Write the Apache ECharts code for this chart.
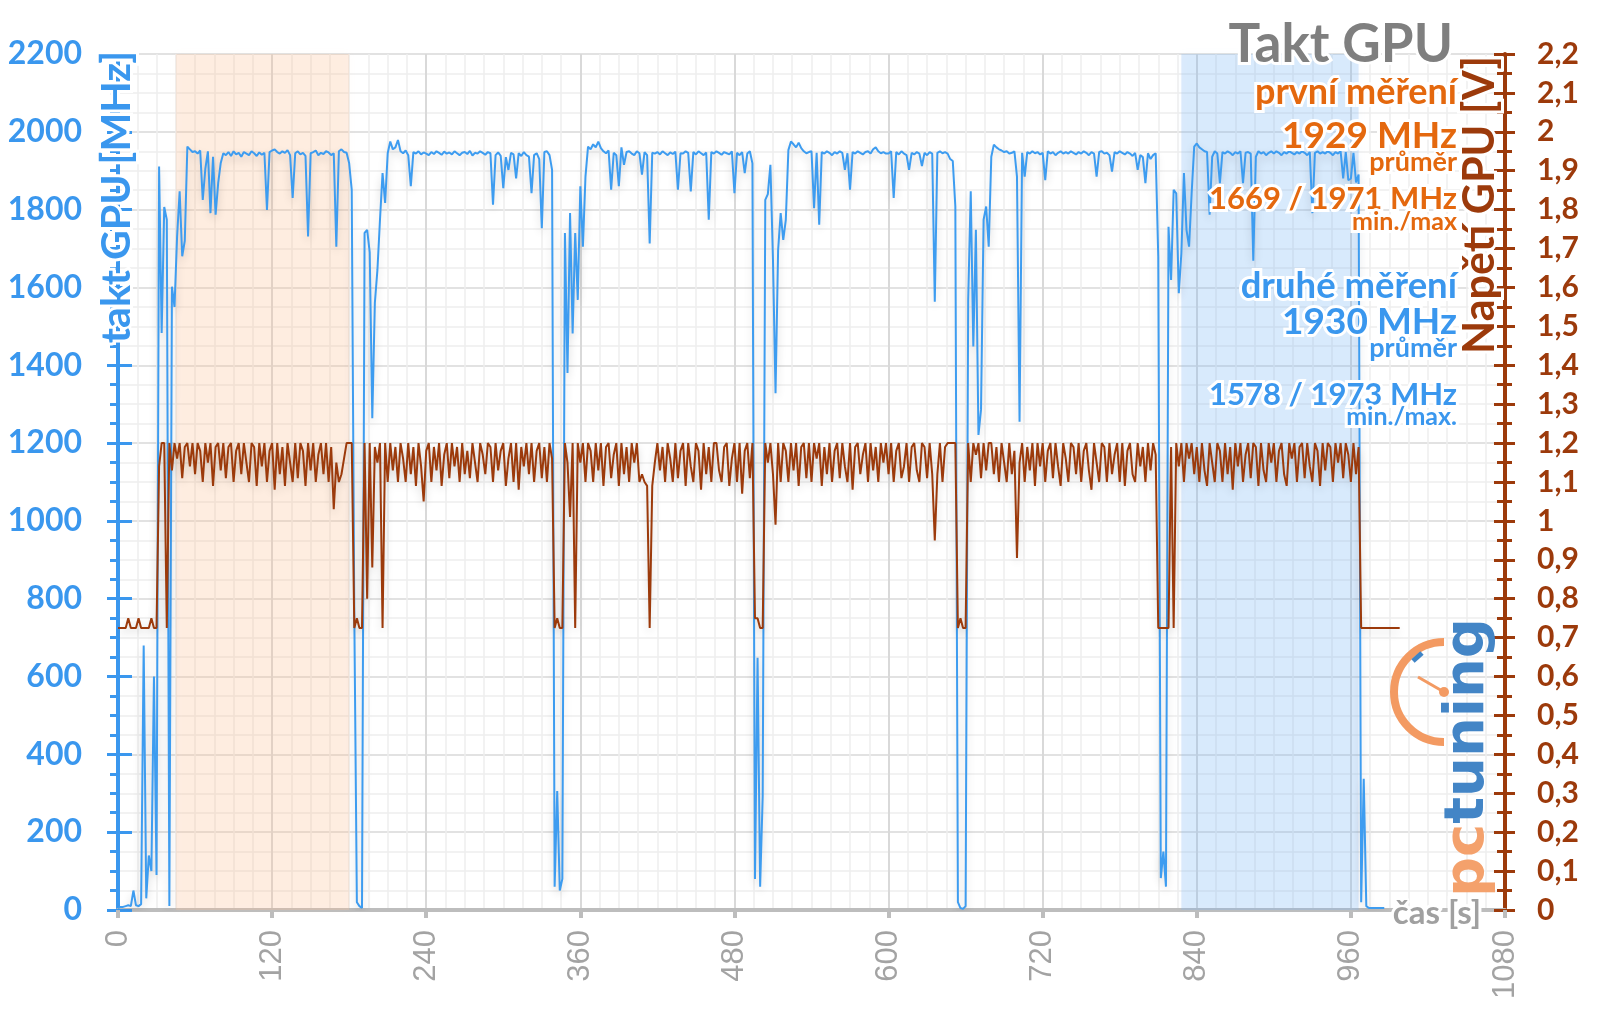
<!DOCTYPE html>
<html><head><meta charset="utf-8">
<script src="https://cdn.jsdelivr.net/npm/echarts@6/dist/echarts.min.js"></script>
<style>html,body{margin:0;padding:0;background:#fff}#c{width:1600px;height:1009px}</style>
</head><body><div id="c"></div>
<script>
// ---- data ----
const sampleStart = 0;   // s
const sampleStep = 2;    // s between samples

const clockMHz = [
  5, 8, 8, 10, 12, 10, 50, 12, 10, 15,
  680, 30, 140, 100, 600, 90, 1911, 1483, 1807, 1774,
  10, 1602, 1550, 1730, 1847, 1680, 1720, 1962, 1955, 1948,
  1950, 1944, 1952, 1825, 1905, 1950, 1791, 1936, 1787, 1868,
  1920, 1945, 1940, 1948, 1938, 1950, 1942, 1946, 1936, 1948,
  1944, 1940, 1950, 1945, 1938, 1947, 1941, 1946, 1799, 1948,
  1952, 1955, 1948, 1944, 1950, 1946, 1953, 1940, 1830, 1945,
  1950, 1942, 1946, 1938, 1731, 1945, 1948, 1952, 1940, 1946,
  1943, 1950, 1947, 1940, 1945, 1705, 1950, 1955, 1948, 1946,
  1919, 1851, 760, 20, 10, 5, 1740, 1748, 1690, 1264,
  1560, 1645, 1774, 1894, 1817, 1945, 1975, 1955, 1960, 1979,
  1950, 1945, 1952, 1940, 1860, 1948, 1944, 1950, 1942, 1947,
  1944, 1940, 1948, 1943, 1950, 1946, 1941, 1949, 1944, 1947,
  1942, 1950, 1945, 1940, 1946, 1948, 1943, 1951, 1939, 1946,
  1944, 1950, 1946, 1941, 1948, 1945, 1813, 1940, 1947, 1938,
  1855, 1935, 1902, 1946, 1942, 1880, 1945, 1938, 1948, 1940,
  1936, 1842, 1940, 1945, 1930, 1752, 1948, 1950, 1940, 1902,
  60, 306, 50, 80, 1740, 1380, 1791, 1482, 1740, 1568,
  1860, 1705, 1885, 1962, 1955, 1968, 1960, 1975, 1958, 1950,
  1945, 1952, 1851, 1946, 1940, 1860, 1960, 1915, 1948, 1950,
  1944, 1940, 1950, 1945, 1890, 1948, 1940, 1713, 1946, 1944,
  1948, 1942, 1950, 1945, 1940, 1947, 1943, 1949, 1851, 1945,
  1944, 1950, 1946, 1847, 1948, 1942, 1950, 1945, 1940, 1947,
  1774, 1948, 1944, 1950, 1946, 1941, 1948, 1945, 1942, 1950,
  1842, 1946, 1940, 1948, 1894, 1944, 1950, 1919, 80, 648,
  60, 293, 1825, 1840, 1915, 1671, 1328, 1696, 1791, 1722,
  1774, 1953, 1975, 1968, 1960, 1972, 1958, 1950, 1945, 1948,
  1950, 1804, 1946, 1761, 1948, 1944, 1950, 1946, 1940, 1948,
  1944, 1950, 1946, 1902, 1945, 1851, 1948, 1944, 1950, 1946,
  1942, 1948, 1950, 1944, 1955, 1960, 1950, 1945, 1948, 1944,
  1944, 1950, 1830, 1948, 1942, 1950, 1944, 1940, 1902, 1946,
  1942, 1948, 1944, 1912, 1946, 1940, 1948, 1944, 1563, 1946,
  1950, 1945, 1948, 1944, 1930, 1925, 1808, 20, 5, 3,
  10, 1568, 1847, 1448, 1748, 1221, 1286, 1774, 1808, 1705,
  1936, 1967, 1960, 1955, 1952, 1948, 1950, 1944, 1946, 1950,
  1885, 1255, 1946, 1885, 1948, 1944, 1950, 1945, 1948, 1942,
  1946, 1876, 1950, 1944, 1948, 1940, 1946, 1950, 1944, 1948,
  1944, 1950, 1946, 1942, 1948, 1944, 1950, 1946, 1940, 1948,
  1944, 1885, 1948, 1950, 1944, 1946, 1940, 1898, 1948, 1944,
  1950, 1946, 1942, 1948, 1944, 1938, 1946, 1902, 1940, 1935,
  1868, 1945, 1930, 1940, 1945, 1679, 82, 150, 60, 1756,
  1619, 1851, 1842, 1585, 1688, 1894, 1748, 1705, 1842, 1962,
  1970, 1960, 1955, 1950, 1948, 1787, 1936, 1950, 1944, 1868,
  1948, 1944, 1950, 1946, 1940, 1948, 1944, 1950, 1868, 1946,
  1948, 1944, 1669, 1936, 1950, 1944, 1948, 1940, 1946, 1950,
  1944, 1950, 1946, 1940, 1948, 1944, 1950, 1946, 1942, 1948,
  1944, 1950, 1946, 1940, 1948, 1791, 1946, 1950, 1944, 1948,
  1944, 1950, 1946, 1940, 1948, 1944, 1950, 1880, 1948, 1876,
  1880, 1946, 1870, 1890, 20, 337, 10, 5, 5, 5,
  5, 5, 5, 5
];

const voltageV = [
  .725,.725,.725,.725,.75,.725,.725,.725,.75,.725,
  .725,.725,.725,.75,.725,.725,1.14,1.2,1.2,.725,
  1.2,1.13,1.2,1.16,1.2,1.11,1.19,1.2,1.14,1.2,
  1.12,1.2,1.18,1.1,1.2,1.15,1.2,1.09,1.19,1.2,
  1.13,1.2,1.11,1.19,1.2,1.1,1.18,1.2,1.12,1.2,
  1.15,1.1,1.2,1.19,1.09,1.2,1.14,1.2,1.1,1.18,
  1.2,1.08,1.2,1.12,1.19,1.09,1.2,1.15,1.1,1.2,
  1.11,1.2,1.18,1.09,1.2,1.13,1.2,1.1,1.17,1.2,
  1.12,1.2,1.1,1.19,1.03,1.15,1.1,1.12,1.16,1.2,
  1.2,1.2,.725,.75,.725,.725,1.2,.8,1.2,.88,
  1.19,1.15,1.2,.725,1.2,1.1,1.2,1.13,1.19,1.1,
  1.2,1.16,1.1,1.2,1.12,1.19,1.09,1.2,1.14,1.05,
  1.18,1.2,1.1,1.19,1.13,1.2,1.09,1.17,1.2,1.11,
  1.2,1.14,1.19,1.1,1.2,1.12,1.18,1.11,1.2,1.15,
  1.1,1.2,1.17,1.12,1.2,1.19,1.1,1.2,1.13,1.18,
  1.2,1.09,1.16,1.2,1.1,1.2,1.08,1.19,1.14,1.2,
  1.12,1.2,1.1,1.18,1.2,1.11,1.19,1.1,1.2,1.16,
  .725,.75,.725,.725,1.2,1.15,1.01,1.2,.725,1.2,
  1.15,1.2,1.1,1.2,1.18,1.1,1.2,1.13,1.2,1.09,
  1.19,1.2,1.11,1.17,1.2,1.09,1.2,1.12,1.19,1.1,
  1.2,1.15,1.2,1.1,1.12,1.1,1.09,.725,1.09,1.15,
  1.2,1.13,1.19,1.1,1.2,1.16,1.1,1.2,1.11,1.18,
  1.2,1.09,1.2,1.14,1.1,1.2,1.18,1.08,1.2,1.12,
  1.19,1.1,1.2,1.2,1.13,1.1,1.19,1.2,1.09,1.16,
  1.2,1.1,1.2,1.07,1.18,1.2,1.11,1.2,.75,.75,
  .725,.725,1.2,1.15,1.2,1.12,.99,1.2,1.1,1.2,
  1.18,1.1,1.2,1.13,1.2,1.09,1.19,1.2,1.11,1.2,
  1.1,1.2,1.16,1.2,1.09,1.19,1.12,1.2,1.1,1.18,
  1.2,1.11,1.2,1.14,1.1,1.2,1.08,1.19,1.2,1.12,
  1.17,1.2,1.1,1.2,1.13,1.19,1.1,1.2,1.15,1.2,
  1.12,1.2,1.1,1.18,1.2,1.11,1.14,1.2,1.1,1.19,
  1.2,1.13,1.1,1.2,1.19,1.11,1.2,1.12,.95,1.12,
  1.2,1.1,1.19,1.2,1.2,1.2,1.2,.725,.75,.725,
  .725,1.2,1.1,1.2,1.17,1.2,1.11,1.2,1.13,1.2,
  1.2,1.12,1.19,1.1,1.2,1.15,1.1,1.2,1.12,1.18,
  .905,1.15,1.2,1.1,1.19,1.13,1.2,1.09,1.2,1.14,
  1.2,1.1,1.18,1.2,1.11,1.2,1.14,1.09,1.2,1.16,
  1.1,1.2,1.19,1.12,1.2,1.1,1.18,1.2,1.13,1.08,
  1.2,1.15,1.1,1.2,1.19,1.1,1.2,1.12,1.17,1.2,
  1.1,1.2,1.09,1.18,1.2,1.12,1.1,1.2,1.14,1.19,
  1.1,1.2,1.13,1.2,1.17,.725,.725,.725,.725,.725,
  1.19,.725,1.2,1.14,1.2,1.1,1.2,1.16,1.2,1.12,
  1.19,1.1,1.2,1.13,1.09,1.2,1.15,1.1,1.2,1.18,
  1.1,1.2,1.12,1.19,1.08,1.2,1.14,1.2,1.1,1.17,
  1.2,1.11,1.2,1.19,1.09,1.2,1.13,1.1,1.2,1.15,
  1.2,1.1,1.18,1.2,1.12,1.09,1.2,1.16,1.2,1.1,
  1.19,1.2,1.11,1.2,1.14,1.1,1.2,1.18,1.09,1.2,
  1.13,1.2,1.19,1.1,1.2,1.15,1.2,1.11,1.2,1.17,
  1.1,1.2,1.12,1.19,.725,.725,.725,.725,.725,.725,
  .725,.725,.725,.725,.725,.725,.725,.725,.725,.725
];

const firstRunBand = [45, 180];     // s
const secondRunBand = [828, 966];   // s
const chartTitle = 'Takt GPU';
const firstRunLines = ['první měření', '1929 MHz', 'průměr', '1669 / 1971 MHz', 'min./max'];
const secondRunLines = ['druhé měření', '1930 MHz', 'průměr', '1578 / 1973 MHz', 'min./max.'];
const leftAxisName = 'takt GPU [MHz]';
const rightAxisName = 'Napětí GPU [V]';
const xAxisName = 'čas [s]';

// ---- styling ----
const BLUE = '#3a97ee';
const BLUE_LINE = '#3d9cf0';
const BROWN = '#9c3a0b';
const ORANGE = '#e4680e';
const GRAY = '#7f7f7f';
const FONT = 'Lato';

const clockData = clockMHz.map((v, i) => [sampleStart + i * sampleStep, v]);
const voltData = voltageV.map((v, i) => [sampleStart + i * sampleStep, v]);

function txt(text, x, y, size, color, align, extra) {
  return Object.assign({
    type: 'text', x: x, y: y, z: 100, silent: true,
    style: {
      text: text, font: 'bold ' + size + 'px ' + FONT, fill: color,
      textAlign: align || 'right', textVerticalAlign: 'middle',
      align: align || 'right', verticalAlign: 'middle',
      stroke: '#ffffff', lineWidth: 6
    }
  }, extra || {});
}

const RX = 1457;
const graphics = [
  txt(chartTitle, 1453, 45, 53, GRAY),
  txt(firstRunLines[0], RX, 92, 36, ORANGE),
  txt(firstRunLines[1], RX, 136, 37, ORANGE),
  txt(firstRunLines[2], RX, 162, 27, ORANGE),
  txt(firstRunLines[3], RX, 199, 31, ORANGE),
  txt(firstRunLines[4], RX, 222, 25, ORANGE),
  txt(secondRunLines[0], RX, 286, 36.5, BLUE),
  txt(secondRunLines[1], RX, 322, 37, BLUE),
  txt(secondRunLines[2], RX, 348, 27, BLUE),
  txt(secondRunLines[3], RX, 395, 31, BLUE),
  txt(secondRunLines[4], RX, 417, 25, BLUE),
  txt(leftAxisName, 117, 197, 41, BLUE, 'center', { rotation: Math.PI / 2 }),
  txt(rightAxisName, 1480, 205, 43, BROWN, 'center', { rotation: Math.PI / 2 }),
  txt(xAxisName, 1437, 913, 33, '#a0a0a0', 'center'),
  // pctuning logo
  { type: 'arc', z: 90, silent: true,
    shape: { cx: 1444, cy: 692, r: 50, startAngle: Math.PI / 2, endAngle: Math.PI * 1.5, clockwise: true },
    style: { stroke: '#f39a62', lineWidth: 8, fill: 'none' } },
  { type: 'line', z: 91, silent: true, shape: { x1: 1444, y1: 692, x2: 1418, y2: 677 },
    style: { stroke: '#f39a62', lineWidth: 3 } },
  { type: 'circle', z: 91, silent: true, shape: { cx: 1444, cy: 692, r: 5 }, style: { fill: '#f39a62' } },
  { type: 'line', z: 91, silent: true, shape: { x1: 1413, y1: 661, x2: 1422, y2: 653 },
    style: { stroke: '#3f84c6', lineWidth: 5 } },
  { type: 'text', x: 1468, y: 897, rotation: Math.PI / 2, z: 92, silent: true,
    style: { text: '{a|pc}{b|tuning}', font: 'bold 56px "DejaVu Sans"',
      textAlign: 'left', textVerticalAlign: 'middle', align: 'left', verticalAlign: 'middle',
      rich: { a: { fill: '#f4a16c', font: 'bold 56px "DejaVu Sans"' },
              b: { fill: '#4385c6', font: 'bold 56px "DejaVu Sans"' } } } }
];

const chart = echarts.init(document.getElementById('c'), null, { renderer: 'canvas' });
chart.setOption({
  animation: false,
  backgroundColor: '#ffffff',
  grid: { left: 118, right: 95, top: 54, bottom: 99, containLabel: false, outerBoundsMode: 'none' },
  xAxis: {
    type: 'value', min: 0, max: 1080, interval: 120,
    axisLine: { show: true, lineStyle: { color: '#bdbdbd', width: 4 } },
    axisTick: { show: true, length: 8, lineStyle: { color: '#bdbdbd', width: 4 } },
    axisLabel: { rotate: 90, color: '#a3a3a3', fontSize: 31, fontFamily: 'Liberation Sans', margin: 20,
                 showMinLabel: true, showMaxLabel: true, formatter: v => String(v) },
    splitLine: { show: true, lineStyle: { color: '#d9d9d9', width: 2 } },
    minorTick: { show: false, splitNumber: 8 },
    minorSplitLine: { show: true, lineStyle: { color: '#eeeeee', width: 1.5 } }
  },
  yAxis: [
    { type: 'value', position: 'left', min: 0, max: 2200, interval: 200,
      axisLine: { show: true, lineStyle: { color: BLUE, width: 4 } },
      axisTick: { show: true, length: 11, lineStyle: { color: BLUE, width: 3 } },
      minorTick: { show: true, splitNumber: 4, length: 8, lineStyle: { color: BLUE, width: 3 } },
      axisLabel: { color: BLUE, fontSize: 32, fontWeight: 'bold', fontFamily: FONT, margin: 36,
                   formatter: v => String(v) },
      splitLine: { show: true, lineStyle: { color: '#d9d9d9', width: 1.5 } },
      minorSplitLine: { show: true, lineStyle: { color: '#eeeeee', width: 1.5 } } },
    { type: 'value', position: 'right', min: 0, max: 2.2, interval: 0.1,
      axisLine: { show: true, lineStyle: { color: BROWN, width: 4 } },
      axisTick: { show: true, length: 10, lineStyle: { color: BROWN, width: 3 } },
      minorTick: { show: true, splitNumber: 2, length: 7, lineStyle: { color: BROWN, width: 3 } },
      axisLabel: { color: BROWN, fontSize: 30, fontWeight: 'bold', fontFamily: FONT, margin: 32,
        formatter: v => String(Math.round(v * 10) / 10).replace('.', ',') },
      splitLine: { show: false } },
    { type: 'value', position: 'left', min: 0, max: 2200, interval: 200,
      axisLine: { show: false }, axisLabel: { show: false }, splitLine: { show: false },
      axisTick: { show: true, inside: true, length: 14, lineStyle: { color: BLUE, width: 3 } } },
    { type: 'value', position: 'right', min: 0, max: 2.2, interval: 0.1,
      axisLine: { show: false }, axisLabel: { show: false }, splitLine: { show: false },
      axisTick: { show: true, inside: true, length: 11, lineStyle: { color: BROWN, width: 3 } },
      minorTick: { show: true, splitNumber: 2, length: 8, lineStyle: { color: BROWN, width: 3 } } }
  ],
  series: [
    { type: 'line', name: 'bands', data: [], z: 1, silent: true,
      markArea: { silent: true, data: [
        [{ xAxis: firstRunBand[0], itemStyle: { color: 'rgba(250,195,150,0.26)', shadowBlur: 8, shadowColor: 'rgba(250,195,150,0.18)' } },
         { xAxis: firstRunBand[1] }],
        [{ xAxis: secondRunBand[0], itemStyle: { color: 'rgba(125,182,245,0.26)', shadowBlur: 8, shadowColor: 'rgba(125,182,245,0.18)' } },
         { xAxis: secondRunBand[1] }]
      ] } },
    { type: 'line', name: 'takt GPU', data: clockData, yAxisIndex: 0, z: 3,
      showSymbol: false, symbol: 'none', sampling: null,
      lineStyle: { color: BLUE_LINE, width: 2, shadowBlur: 8, shadowColor: 'rgba(0,0,0,0.16)', shadowOffsetY: 4 } },
    { type: 'line', name: 'Napětí GPU', data: voltData, yAxisIndex: 1, z: 4,
      showSymbol: false, symbol: 'none',
      lineStyle: { color: BROWN, width: 2, shadowBlur: 8, shadowColor: 'rgba(0,0,0,0.16)', shadowOffsetY: 4 } }
  ],
  graphic: graphics
});
</script>
</body></html>
